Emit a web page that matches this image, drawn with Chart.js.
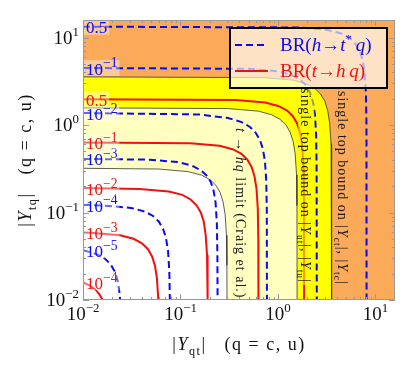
<!DOCTYPE html>
<html>
<head>
<meta charset="utf-8">
<script src="https://cdn.jsdelivr.net/npm/chart.js@4.4.0/dist/chart.umd.min.js"></script>
<style>
  body { margin: 0; background: #fff; }
  #wrap { width: 415px; height: 384px; }
</style>
</head>
<body>
<div id="wrap"><canvas id="plot" width="415" height="384"></canvas></div>
<script>
// axis range and tick labels (both axes log, 1e-2 .. 10^1.2)
const axisMin = 0.01;
const axisMax = 15.85;
const tickValues = [0.01, 0.1, 1, 10];
const tickExps = ['\u22122', '\u22121', '0', '1'];

// shaded bound regions, [|Y_qt|, |Y_tq|]
const singleTopUt = [[0.01,3.55],[0.71,3.48],[1.42,3.26],[1.95,2.96],[2.38,2.63],[2.73,2.26],[3.02,1.87],[3.23,1.47],[3.39,1.05],[3.50,0.61],[3.54,0.27],[3.55,0.01]];
const craigLimit = [[0.01,1.57],[0.31,1.54],[0.63,1.44],[0.86,1.31],[1.05,1.16],[1.21,1.00],[1.33,0.83],[1.43,0.65],[1.50,0.47],[1.55,0.27],[1.565,0.12],[1.57,0.01]];
const allowed = [[0.01,0.32],[0.06,0.314],[0.12,0.293],[0.165,0.267],[0.201,0.237],[0.231,0.204],[0.255,0.169],[0.273,0.133],[0.287,0.095],[0.296,0.055],[0.299,0.025],[0.30,0.01]];

// BR(t -> hq) contours (red)
const redLevels = ['0.5', '\u22121', '\u22122', '\u22123', '\u22124'];
const redHalf = [[0.01,1.97],[0.37,1.93],[0.74,1.81],[1.02,1.64],[1.24,1.46],[1.42,1.26],[1.57,1.04],[1.68,0.82],[1.77,0.59],[1.82,0.34],[1.845,0.15],[1.85,0.01]];
const redE1 = [[0.01,0.63],[0.126,0.617],[0.252,0.578],[0.347,0.526],[0.422,0.467],[0.485,0.402],[0.536,0.332],[0.573,0.261],[0.602,0.187],[0.621,0.109],[0.628,0.0485],[0.63,0.01]];
const redE2 = [[0.01,0.19],[0.038,0.186],[0.076,0.174],[0.1045,0.159],[0.127,0.141],[0.146,0.121],[0.1615,0.100],[0.173,0.079],[0.181,0.056],[0.187,0.033],[0.1894,0.0146],[0.19,0.01]];
const redE3 = [[0.01,0.0592],[0.012,0.0588],[0.024,0.055],[0.033,0.0501],[0.0402,0.0445],[0.0462,0.0383],[0.051,0.0316],[0.0546,0.0249],[0.0573,0.0178],[0.0591,0.0104],[0.0592,0.01]];
const redE4 = [[0.01,0.0159],[0.0115,0.0148],[0.0133,0.0133],[0.0148,0.0115],[0.0159,0.01]];

// BR(h -> t* q) contours (blue, dashed)
const blueLevels = ['0.5', '\u22121', '\u22122', '\u22123', '\u22124', '\u22125'];
const blueHalf = [[0.01,13.3],[1.62,13.03],[3.24,12.2],[4.46,11.1],[5.43,9.87],[6.24,8.49],[6.89,7.01],[7.37,5.52],[7.74,3.95],[7.98,2.30],[8.08,1.02],[8.1,0.01]];
const blueE1 = [[0.01,4.48],[0.5,4.39],[1.0,4.11],[1.375,3.74],[1.675,3.32],[1.925,2.86],[2.125,2.36],[2.275,1.86],[2.39,1.33],[2.46,0.775],[2.49,0.345],[2.5,0.01]];
const blueE2 = [[0.01,1.37],[0.154,1.32],[0.308,1.20],[0.4235,1.08],[0.516,0.95],[0.593,0.81],[0.6545,0.67],[0.7007,0.53],[0.735,0.385],[0.758,0.23],[0.768,0.105],[0.77,0.01]];
const blueE3 = [[0.01,0.41],[0.048,0.402],[0.096,0.376],[0.132,0.342],[0.161,0.304],[0.185,0.265],[0.204,0.225],[0.218,0.18],[0.229,0.13],[0.236,0.075],[0.239,0.033],[0.24,0.01]];
const blueE4 = [[0.01,0.122],[0.0156,0.1205],[0.0312,0.1128],[0.0429,0.1027],[0.0523,0.0913],[0.0601,0.0785],[0.0663,0.0648],[0.071,0.051],[0.0745,0.0365],[0.0768,0.0213],[0.0778,0.01]];
const blueE5 = [[0.01,0.037],[0.0136,0.0337],[0.0166,0.030],[0.0191,0.0258],[0.0211,0.0213],[0.0226,0.0168],[0.0237,0.012],[0.024,0.01]];

const redCurves = [redHalf, redE1, redE2, redE3, redE4];
const blueCurves = [blueHalf, blueE1, blueE2, blueE3, blueE4, blueE5];

const ORANGE = 'rgb(250,170,88)';
const YELLOW = 'rgb(255,255,0)';
const LIGHT = 'rgb(255,255,192)';
const RED = 'rgb(240,16,16)';
const BLUE = 'rgb(10,10,240)';
const SERIF = '"Liberation Serif", "DejaVu Serif", serif';

const toPts = arr => arr.map(p => ({ x: p[0], y: p[1] }));

const datasets = [];
[[singleTopUt, YELLOW, 30], [craigLimit, LIGHT, 20], [allowed, '#ffffff', 10]].forEach(r => {
    datasets.push({
        data: toPts(r[0]), showLine: true, fill: 'start', backgroundColor: r[1],
        borderColor: '#333', borderWidth: 0.8, pointRadius: 0, tension: 0, order: r[2]
    });
});
blueCurves.forEach(c => datasets.push({
    data: toPts(c), showLine: true, fill: false, borderColor: BLUE, borderWidth: 2,
    borderDash: [7, 4], pointRadius: 0, tension: 0, order: 2
}));
redCurves.forEach(c => datasets.push({
    data: toPts(c), showLine: true, fill: false, borderColor: RED, borderWidth: 2,
    pointRadius: 0, tension: 0, order: 1
}));

// text runs (italic / sub / sup); y is the middle of the digits
function richParts(ctx, segs, size, supScale) {
    const k = supScale || 0.68;
    let w = 0;
    const parts = segs.map(s => {
        const sz = (s.sub || s.sup) ? size * k : size;
        const font = (s.it ? 'italic ' : '') + sz.toFixed(1) + 'px ' + SERIF;
        ctx.font = font;
        const width = ctx.measureText(s.t).width;
        w += width;
        return { s, font, width, dy: s.sub ? size * 0.3 : (s.sup ? -size * 0.42 : 0) };
    });
    return { parts, w };
}

function drawRich(ctx, segs, x, y, size, align, supScale) {
    const { parts, w } = richParts(ctx, segs, size, supScale);
    let cx = align === 'center' ? x - w / 2 : (align === 'right' ? x - w : x);
    ctx.textBaseline = 'alphabetic';
    const base = y + size * 0.33;
    parts.forEach(p => {
        ctx.font = p.font;
        ctx.fillText(p.s.t, cx, base + p.dy);
        cx += p.width;
    });
    return w;
}

function levelSegs(lv) {
    return lv === '0.5' ? [{ t: '0.5' }] : [{ t: '10' }, { t: lv, sup: true }];
}

const decor = {
    id: 'decor',
    beforeDatasetsDraw(chart) {
        const { ctx, chartArea: a } = chart;
        ctx.save();
        ctx.fillStyle = ORANGE;
        ctx.fillRect(a.left, a.top, a.right - a.left, a.bottom - a.top);
        ctx.restore();
    },
    afterDatasetsDraw(chart) {
        const { ctx, chartArea: a } = chart;
        const xs = chart.scales.x, ys = chart.scales.y;
        ctx.save();
        ctx.beginPath();
        ctx.rect(a.left, a.top, a.right - a.left, a.bottom - a.top);
        ctx.clip();

        // contour labels at the left edge
        const lab = (curves, levels, color) => {
            curves.forEach((c, i) => {
                const y = ys.getPixelForValue(c[0][1]);
                const segs = levelSegs(levels[i]);
                const { w } = richParts(ctx, segs, 17, 0.8);
                ctx.fillStyle = 'rgba(255,255,255,0.38)';
                ctx.fillRect(a.left + 1, y - 8, w + 4, 16);
                ctx.fillStyle = color;
                drawRich(ctx, segs, a.left + 3, y + 1, 17, 'left', 0.8);
            });
        };
        lab(blueCurves, blueLevels, BLUE);
        lab(redCurves, redLevels, RED);

        // rotated annotations
        const vtext = (segs, xv, yv, size, bg) => {
            ctx.save();
            ctx.translate(xs.getPixelForValue(xv), ys.getPixelForValue(yv));
            ctx.rotate(Math.PI / 2);
            ctx.letterSpacing = '1px';
            if (bg) {
                const { w } = richParts(ctx, segs, size);
                ctx.fillStyle = bg;
                ctx.fillRect(-2, -size * 0.62, w + 4, size * 1.15);
            }
            ctx.fillStyle = '#1a1a1a';
            drawRich(ctx, segs, 0, 0, size, 'left');
            ctx.restore();
        };
        vtext([{ t: 'single top bound on |' }, { t: 'Y', it: true }, { t: 'ct', sub: true }, { t: '|, |' }, { t: 'Y', it: true }, { t: 'tc', sub: true }, { t: '|' }], 4.6, 2.45, 14, null);
        vtext([{ t: 'single top bound on |' }, { t: 'Y', it: true }, { t: 'ut', sub: true }, { t: '|, |' }, { t: 'Y', it: true }, { t: 'tu', sub: true }, { t: '|' }], 1.92, 2.65, 14, 'rgba(255,255,0,0.6)');
        vtext([{ t: 't', it: true }, { t: ' \u2192 ' }, { t: 'hq', it: true }, { t: ' limit (Craig et al.)' }], 0.41, 0.925, 14, null);
        ctx.restore();

        // legend box
        ctx.save();
        const lx = a.right - 165, ly = a.top + 8, lw = 157, lh = 60;
        ctx.fillStyle = 'rgba(255,255,255,0.66)';
        ctx.fillRect(lx, ly, lw, lh);
        ctx.lineWidth = 2;
        ctx.strokeStyle = '#000';
        ctx.strokeRect(lx, ly, lw, lh);
        ctx.strokeStyle = BLUE;
        ctx.setLineDash([7, 4]);
        ctx.beginPath(); ctx.moveTo(lx + 5, ly + 17); ctx.lineTo(lx + 38, ly + 17); ctx.stroke();
        ctx.setLineDash([]);
        ctx.strokeStyle = RED;
        ctx.beginPath(); ctx.moveTo(lx + 5, ly + 43); ctx.lineTo(lx + 38, ly + 43); ctx.stroke();
        ctx.fillStyle = BLUE;
        drawRich(ctx, [{ t: 'BR(' }, { t: 'h', it: true }, { t: '\u2192' }, { t: 't', it: true }, { t: '*', sup: true }, { t: '\u2009q', it: true }, { t: ')' }], lx + 50, ly + 17, 19, 'left');
        ctx.fillStyle = RED;
        drawRich(ctx, [{ t: 'BR(' }, { t: 't', it: true }, { t: '\u2192' }, { t: 'h\u2009q', it: true }, { t: ')' }], lx + 50, ly + 43, 19, 'left');
        ctx.restore();

        // frame with inward ticks
        ctx.save();
        ctx.strokeStyle = '#999';
        ctx.lineWidth = 1;
        ctx.strokeRect(a.left + 0.5, a.top + 0.5, a.right - a.left - 1, a.bottom - a.top - 1);
        ctx.beginPath();
        tickValues.forEach(d => {
            [1, 2, 3, 4, 5, 6, 7, 8, 9].forEach(m => {
                const v = d * m;
                if (v < axisMin || v > axisMax) return;
                const len = m === 1 ? 6 : 3;
                const px = Math.round(xs.getPixelForValue(v)) + 0.5;
                const py = Math.round(ys.getPixelForValue(v)) + 0.5;
                ctx.moveTo(px, a.bottom); ctx.lineTo(px, a.bottom - len);
                ctx.moveTo(px, a.top); ctx.lineTo(px, a.top + len);
                ctx.moveTo(a.left, py); ctx.lineTo(a.left + len, py);
                ctx.moveTo(a.right, py); ctx.lineTo(a.right - len, py);
            });
        });
        ctx.stroke();
        ctx.restore();
    },
    afterDraw(chart) {
        const { ctx, chartArea: a } = chart;
        const xs = chart.scales.x, ys = chart.scales.y;
        ctx.save();
        ctx.fillStyle = '#111';
        tickValues.forEach((v, i) => {
            const segs = [{ t: '10' }, { t: tickExps[i], sup: true }];
            drawRich(ctx, segs, xs.getPixelForValue(v), a.bottom + 14, 19, 'center');
            drawRich(ctx, segs, a.left - 4, ys.getPixelForValue(v), 19, 'right');
        });
        ctx.letterSpacing = '1.5px';
        const title = q => [{ t: '|' }, { t: 'Y', it: true }, { t: q, sub: true }, { t: '|   (q = c, u)' }];
        drawRich(ctx, title('qt'), (a.left + a.right) / 2, 344, 18, 'center');
        ctx.translate(25, (a.top + a.bottom) / 2);
        ctx.rotate(-Math.PI / 2);
        drawRich(ctx, title('tq'), 0, 0, 18, 'center');
        ctx.restore();
    }
};

new Chart(document.getElementById('plot'), {
    type: 'scatter',
    data: { datasets },
    options: {
        responsive: false,
        animation: false,
        layout: { padding: { top: 20, right: 20, left: 0, bottom: 0 } },
        plugins: { legend: { display: false }, tooltip: { enabled: false } },
        scales: {
            x: {
                type: 'logarithmic', min: axisMin, max: axisMax,
                ticks: { display: false }, grid: { display: false }, border: { display: false },
                afterFit: s => { s.height = 84; }
            },
            y: {
                type: 'logarithmic', min: axisMin, max: axisMax,
                ticks: { display: false }, grid: { display: false }, border: { display: false },
                afterFit: s => { s.width = 83; }
            }
        }
    },
    plugins: [decor]
});
</script>
</body>
</html>
